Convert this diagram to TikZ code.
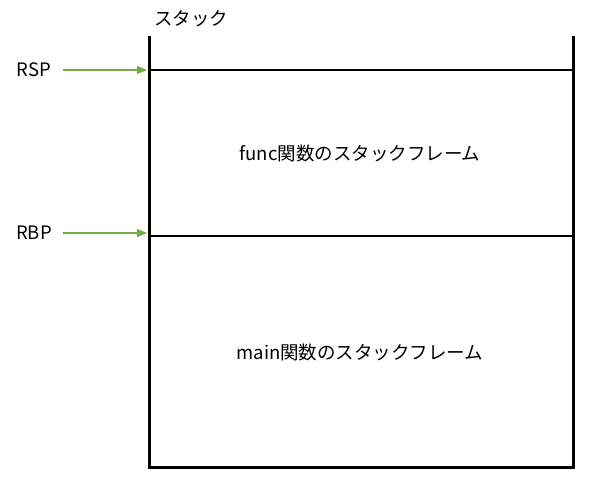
\documentclass[tikz,border=0pt]{standalone}
\usepackage{fontspec}
\setmainfont{Noto Sans CJK JP}
\usetikzlibrary{arrows.meta}
\definecolor{grx}{RGB}{112,173,71}

\begin{document}
\begin{tikzpicture}[x=1pt,y=-1pt,font=\fontsize{18.5}{22}\selectfont]
            \useasboundingbox (0,0) rectangle (599,489);
            \coordinate (tl) at (149,36);
            \coordinate (bl) at (149,467);
            \coordinate (br) at (573,467);
            \coordinate (tr) at (573,36);
            \coordinate (sp) at (149,70);
            \coordinate (bp) at (149,236);

            \draw [line width=3pt] (tl) -- (bl) -- (br) -- (tr);
            \draw [line width=2pt] (sp) -- (sp -| tr);
            \draw [line width=2pt] (bp) -- (bp -| tr);

            \node [anchor=west,inner sep=0pt] (stack) at (154,19) {スタック};
            \node (func) at (360,153) {func関数のスタックフレーム};
            \node (main) at (360,352) {main関数のスタックフレーム};

            \node (rsp) at (34,70) {RSP};
            \node (rbp) at (34,233) {RBP};
            \coordinate (rspend) at (147,70);
            \coordinate (rbpend) at (147,233);
            \draw [-{Triangle[length=10pt,width=8pt]},grx,line width=1.2pt,shorten <=8pt] (rsp.east) -- (rspend);
            \draw [-{Triangle[length=10pt,width=8pt]},grx,line width=1.2pt,shorten <=8pt] (rbp.east) -- (rbpend);
        \end{tikzpicture}
\end{document}
